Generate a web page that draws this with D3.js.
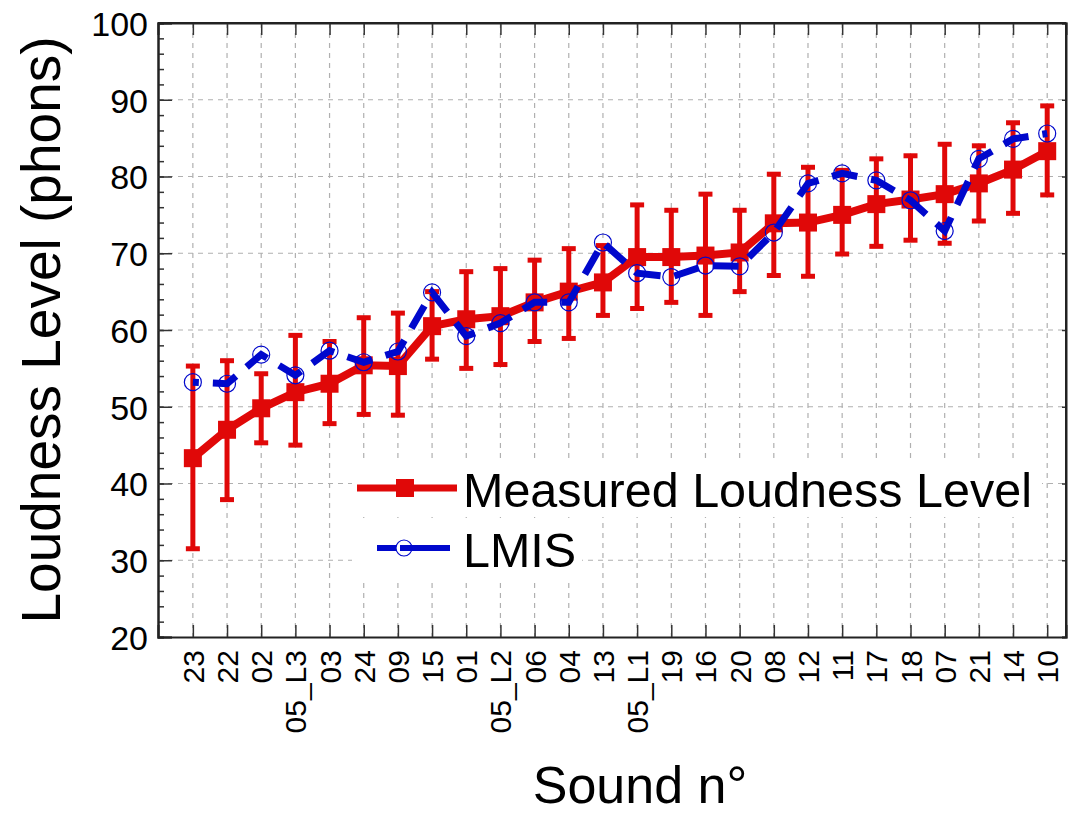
<!DOCTYPE html>
<html lang="en">
<head>
    <meta charset="UTF-8">
    <title>Loudness Level</title>
    <script src="https://d3js.org/d3.v7.min.js"></script>
    <style>
        body { margin: 0; background: white; }
        svg { display: block; }
        text { font-family: "Liberation Sans", Arial, sans-serif; fill: black; }
        .grid line { stroke: #b0b0b0; stroke-width: 1.2px; stroke-dasharray: 5,5; }
    </style>
</head>
<body>
    <svg width="1069" height="813"></svg>

    <script>
        // sound ids, sorted by measured level
        const sounds = ["23", "22", "02", "05_L3", "03", "24", "09", "15", "01", "05_L2", "06", "04", "13",
                        "05_L1", "19", "16", "20", "08", "12", "11", "17", "18", "07", "21", "14", "10"];
        const measured = [43.3, 47.0, 49.8, 51.9, 53.0, 55.4, 55.3, 60.5, 61.4, 61.8, 63.6, 65.0, 66.2,
                          69.5, 69.5, 69.7, 70.1, 73.9, 74.0, 75.0, 76.4, 77.0, 77.7, 79.1, 80.9, 83.3];
        const errHigh = [55.3, 56.0, 54.3, 59.3, 58.5, 61.6, 62.2, 65.0, 67.6, 68.0, 69.1, 70.6, 71.0,
                         76.3, 75.6, 77.7, 75.6, 80.3, 81.2, 80.8, 82.3, 82.7, 84.2, 84.0, 87.0, 89.2];
        const errLow = [31.5, 37.9, 45.3, 45.0, 47.8, 49.0, 48.9, 56.2, 55.0, 55.5, 58.5, 58.9, 61.9,
                        62.8, 63.6, 61.9, 65.0, 67.1, 67.0, 69.9, 70.9, 71.7, 71.3, 74.2, 75.2, 77.6];
        const lmis = [53.2, 53.0, 56.8, 54.1, 57.3, 55.8, 57.2, 64.9, 59.2, 60.9, 63.6, 63.6, 71.4,
                      67.4, 66.9, 68.4, 68.3, 72.7, 79.1, 80.4, 79.5, 76.9, 72.9, 82.3, 84.9, 85.6];
        const yTicks = [20, 30, 40, 50, 60, 70, 80, 90, 100];

        const red = "#e00808", blue = "#0008cc";
        const svg = d3.select("svg");
        const pLeft = 158, pRight = 1066, pTop = 23, pBottom = 637;

        const x = d3.scaleLinear().domain([-1.02, 25.55]).range([pLeft, pRight]);
        const y = d3.scaleLinear().domain([20, 100]).range([pBottom, pTop]);
        const idx = d3.range(sounds.length);

        // grid
        const grid = svg.append("g").attr("class", "grid");
        grid.selectAll(".gx").data(idx).enter().append("line")
            .attr("x1", i => x(i)).attr("x2", i => x(i)).attr("y1", pTop).attr("y2", pBottom);
        grid.selectAll(".gy").data(yTicks.slice(1, -1)).enter().append("line")
            .attr("x1", pLeft).attr("x2", pRight).attr("y1", d => y(d)).attr("y2", d => y(d));

        // axes
        svg.append("g").attr("transform", `translate(${pLeft},0)`)
            .call(d3.axisLeft(y).tickValues(d3.range(20, 101, 2)).tickSize(-6).tickFormat(""));
        svg.append("g").attr("transform", `translate(${pLeft},0)`)
            .call(d3.axisLeft(y).tickValues(yTicks).tickSize(-14).tickPadding(10))
            .call(g => g.selectAll("text").attr("font-size", 34).attr("dy", "0.36em"));
        svg.append("g").attr("transform", `translate(${pRight},0)`)
            .call(d3.axisRight(y).tickValues(yTicks).tickSize(-4).tickFormat(""));
        svg.append("g").attr("transform", `translate(0,${pBottom})`)
            .call(d3.axisBottom(x).tickValues(idx).tickSize(-12).tickFormat(""));
        svg.append("g").attr("transform", `translate(0,${pTop})`)
            .call(d3.axisTop(x).tickValues(idx).tickSize(-12).tickFormat(""));
        svg.selectAll(".domain").attr("stroke", "#222").attr("stroke-width", 2);
        svg.selectAll(".tick line").attr("stroke", "#333").attr("stroke-width", 1.5);
        svg.selectAll(".tick text").attr("fill", "black").attr("font-family", "Liberation Sans, Arial, sans-serif");
        svg.append("line").attr("x1", pLeft).attr("x2", pRight).attr("y1", pTop).attr("y2", pTop)
            .attr("stroke", "#222").attr("stroke-width", 2);
        svg.append("line").attr("x1", pRight).attr("x2", pRight).attr("y1", pTop).attr("y2", pBottom)
            .attr("stroke", "#222").attr("stroke-width", 2);

        // x tick labels, rotated
        svg.selectAll(".xlab").data(idx).enter().append("text")
            .attr("transform", i => `translate(${x(i) + 11},650) rotate(-90)`)
            .attr("text-anchor", "end").attr("font-size", 30)
            .text(i => sounds[i]);

        // axis titles
        svg.append("text").attr("transform", `translate(60,330) rotate(-90)`)
            .attr("text-anchor", "middle").attr("font-size", 55).text("Loudness Level (phons)");
        svg.append("text").attr("x", 640).attr("y", 803).attr("text-anchor", "middle")
            .attr("font-size", 52).text("Sound n°");

        // error bars
        const eb = svg.append("g").attr("stroke", red);
        eb.selectAll(".v").data(idx).enter().append("line")
            .attr("x1", i => x(i)).attr("x2", i => x(i))
            .attr("y1", i => y(errLow[i])).attr("y2", i => y(errHigh[i])).attr("stroke-width", 5);
        eb.selectAll(".h1").data(idx).enter().append("line")
            .attr("x1", i => x(i) - 7).attr("x2", i => x(i) + 7)
            .attr("y1", i => y(errHigh[i])).attr("y2", i => y(errHigh[i])).attr("stroke-width", 5);
        eb.selectAll(".h2").data(idx).enter().append("line")
            .attr("x1", i => x(i) - 7).attr("x2", i => x(i) + 7)
            .attr("y1", i => y(errLow[i])).attr("y2", i => y(errLow[i])).attr("stroke-width", 5);

        // measured line + squares
        svg.append("path").datum(idx)
            .attr("d", d3.line().x(i => x(i)).y(i => y(measured[i])))
            .attr("fill", "none").attr("stroke", red).attr("stroke-width", 8);
        svg.selectAll(".sq").data(idx).enter().append("rect")
            .attr("x", i => x(i) - 9).attr("y", i => y(measured[i]) - 9)
            .attr("width", 18).attr("height", 18).attr("fill", red);

        // LMIS dashed line + circles
        svg.append("path").datum(idx)
            .attr("d", d3.line().x(i => x(i)).y(i => y(lmis[i])))
            .attr("fill", "none").attr("stroke", blue).attr("stroke-width", 7)
            .attr("stroke-dasharray", "26,14").attr("stroke-dashoffset", 20);
        svg.selectAll(".ci").data(idx).enter().append("circle")
            .attr("cx", i => x(i)).attr("cy", i => y(lmis[i])).attr("r", 8.5)
            .attr("fill", "none").attr("stroke", blue).attr("stroke-width", 1.2);

        // legend
        const lg = svg.append("g");
        lg.append("rect").attr("x", 352).attr("y", 463).attr("width", 690).attr("height", 54).attr("fill", "white");
        lg.append("rect").attr("x", 352).attr("y", 523).attr("width", 230).attr("height", 58).attr("fill", "white");
        lg.append("line").attr("x1", 357).attr("x2", 457).attr("y1", 488).attr("y2", 488)
            .attr("stroke", red).attr("stroke-width", 7);
        lg.append("rect").attr("x", 396).attr("y", 479).attr("width", 18).attr("height", 18).attr("fill", red);
        lg.append("text").attr("x", 463).attr("y", 507).attr("font-size", 48.5).text("Measured Loudness Level");
        lg.append("line").attr("x1", 377).attr("x2", 396).attr("y1", 548).attr("y2", 548)
            .attr("stroke", blue).attr("stroke-width", 6);
        lg.append("line").attr("x1", 400).attr("x2", 450).attr("y1", 548).attr("y2", 548)
            .attr("stroke", blue).attr("stroke-width", 6);
        lg.append("circle").attr("cx", 404).attr("cy", 548).attr("r", 8)
            .attr("fill", "none").attr("stroke", blue).attr("stroke-width", 1.2);
        lg.append("text").attr("x", 463).attr("y", 567).attr("font-size", 48.5).text("LMIS");
    </script>
</body>
</html>
